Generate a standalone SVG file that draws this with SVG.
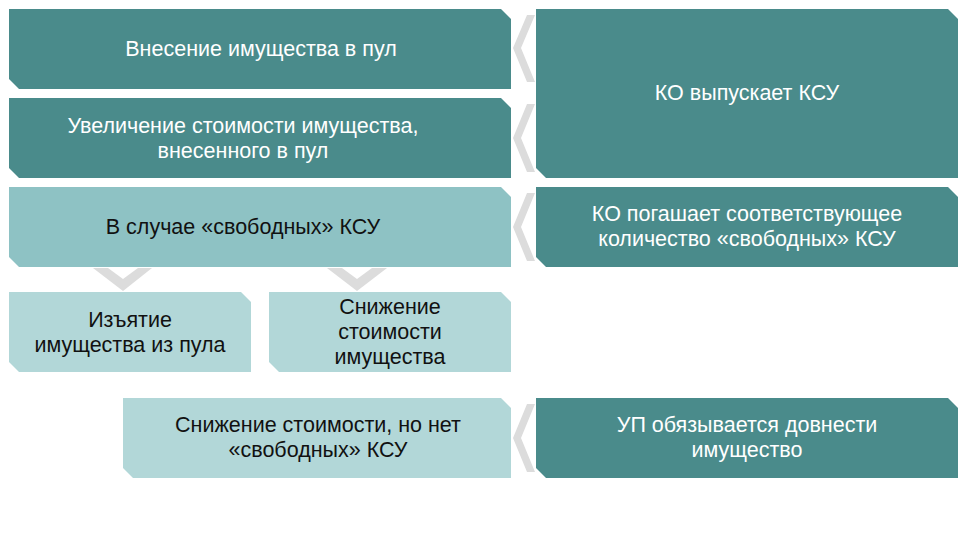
<svg xmlns="http://www.w3.org/2000/svg" width="972" height="540" viewBox="0 0 972 540">
<style>
.d{fill:#4a8b8b}.m{fill:#8ec2c4}.l{fill:#b2d7d8}.c{fill:#dcdcdc}
text{font-family:'Liberation Sans',Arial,sans-serif;font-size:21.5px;text-anchor:middle}
.w{fill:#fff}.k{fill:#111}
</style>
<rect width="972" height="540" fill="#fff"/>
<g id="connectors">
<polygon class="c" points="535,15 527,15 513,48 527,82 535,82 521,48"/>
<polygon class="c" points="535,104 527,104 513,138 527,172 535,172 521,138"/>
<polygon class="c" points="535,193 527,193 513,227 527,261 535,261 521,227"/>
<polygon class="c" points="535,404 527,404 513,438 527,472 535,472 521,438"/>
<polygon class="c" points="93,268 108,268 123,279 138,268 152,268 123,291"/>
<polygon class="c" points="327,268 342,268 357,279 372,268 387,268 357,291"/>
</g>
<g id="n1"><polygon class="d" points="9,9 501,9 511,19 511,89 19,89 9,79"/><text class="w" x="261" y="56">Внесение имущества в пул</text></g>
<g id="n2"><polygon class="d" points="9,98 501,98 511,108 511,178 19,178 9,168"/><text class="w" x="243" y="133">Увеличение стоимости имущества,</text><text class="w" x="243" y="158">внесенного в пул</text></g>
<g id="n3"><polygon class="m" points="9,187 501,187 511,197 511,267 19,267 9,257"/><text class="k" x="243" y="234">В случае «свободных» КСУ</text></g>
<g id="n4"><polygon class="l" points="9,292 241,292 251,302 251,372 19,372 9,362"/><text class="k" x="130" y="327">Изъятие</text><text class="k" x="130" y="352">имущества из пула</text></g>
<g id="n5"><polygon class="l" points="269,292 501,292 511,302 511,372 279,372 269,362"/><text class="k" x="390" y="314">Снижение</text><text class="k" x="390" y="339">стоимости</text><text class="k" x="390" y="364">имущества</text></g>
<g id="n6"><polygon class="l" points="123,398 501,398 511,408 511,478 133,478 123,468"/><text class="k" x="318" y="432">Снижение стоимости, но нет</text><text class="k" x="318" y="457">«свободных» КСУ</text></g>
<g id="r1"><polygon class="d" points="536,9 948,9 958,19 958,178 546,178 536,168"/><text class="w" x="747" y="100">КО выпускает КСУ</text></g>
<g id="r2"><polygon class="d" points="536,187 948,187 958,197 958,267 546,267 536,257"/><text class="w" x="747" y="221">КО погашает соответствующее</text><text class="w" x="747" y="246">количество «свободных» КСУ</text></g>
<g id="r3"><polygon class="d" points="536,398 948,398 958,408 958,478 546,478 536,468"/><text class="w" x="747" y="432">УП обязывается довнести</text><text class="w" x="747" y="457">имущество</text></g>
</svg>
